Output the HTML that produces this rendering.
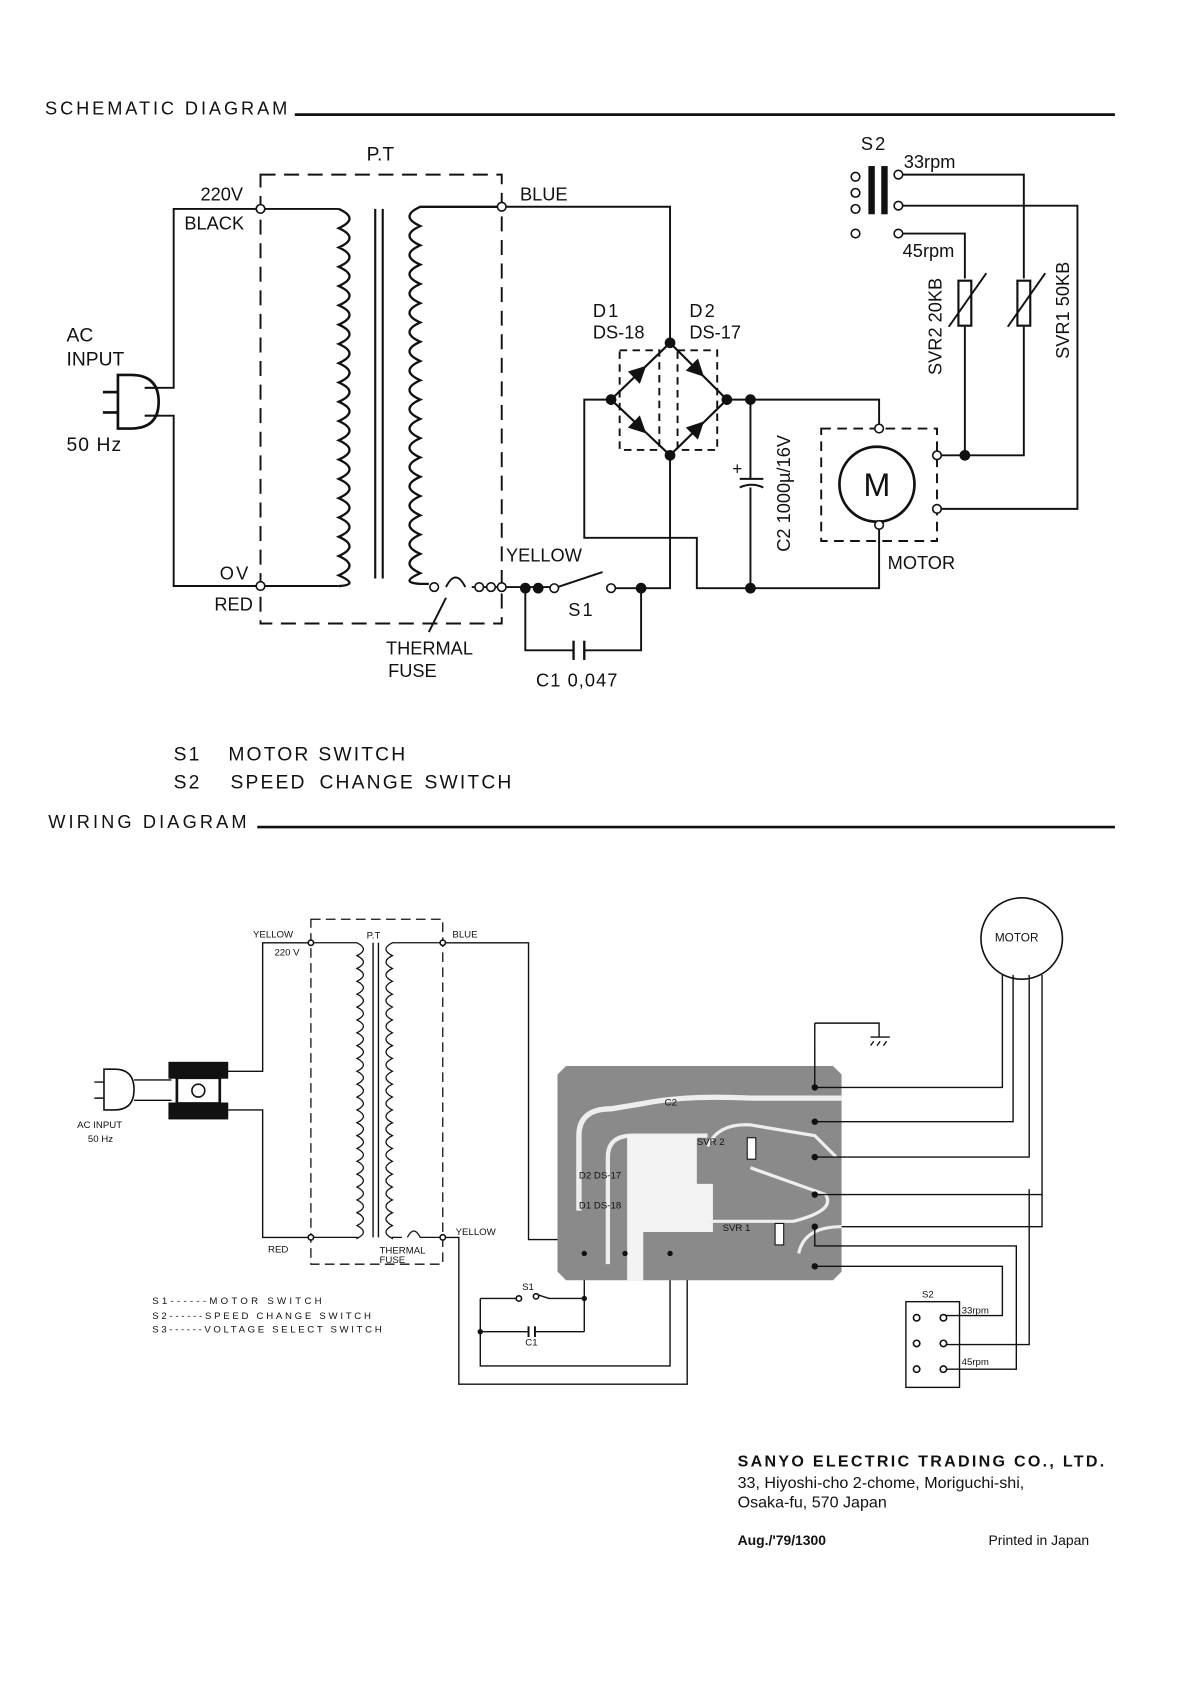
<!DOCTYPE html>
<html><head><meta charset="utf-8"><style>
html,body{margin:0;padding:0;background:#fff;}
svg{display:block;}
text{font-family:"Liberation Sans",sans-serif;fill:#111;}
</style></head><body>
<svg width="1190" height="1682" viewBox="0 0 1110 1570" preserveAspectRatio="none" xmlns="http://www.w3.org/2000/svg">
<defs>
<polygon id="tri" points="-8,-8 8,0 -8,8" fill="#111"/>
</defs>
<g stroke="#111" fill="none" stroke-width="1.8">
<line x1="275" y1="107" x2="1040" y2="107" stroke-width="2.5"/>
<line x1="240" y1="772" x2="1040" y2="772" stroke-width="2.5"/>

<path d="M243 163 H468 V582 H243 Z" stroke-dasharray="14,8"/>
<path d="M243 195 H162 V362 H135"/>
<path d="M135 388 H162 V547 H243"/>
<path d="M243 195 H316"/>
<path d="M243 547 H316"/>
<path d="M316 195 q20 9 0 18 q20 9 0 18 q20 9 0 18 q20 9 0 18 q20 9 0 18 q20 9 0 18 q20 9 0 18 q20 9 0 18 q20 9 0 18 q20 9 0 18 q20 9 0 18 q20 9 0 18 q20 9 0 18 q20 9 0 18 q20 9 0 18 q20 9 0 18 q20 9 0 18 q20 9 0 18 q20 9 0 18 q20 9 0 10" stroke-width="2.2"/>
<line x1="350" y1="195" x2="350" y2="540" stroke-width="2"/>
<line x1="357" y1="195" x2="357" y2="540" stroke-width="2"/>
<path d="M468 193 H392 q-20 9 0 18 q-20 9 0 18 q-20 9 0 18 q-20 9 0 18 q-20 9 0 18 q-20 9 0 18 q-20 9 0 18 q-20 9 0 18 q-20 9 0 18 q-20 9 0 18 q-20 9 0 18 q-20 9 0 18 q-20 9 0 18 q-20 9 0 18 q-20 9 0 18 q-20 9 0 18 q-20 9 0 18 q-20 9 0 18 q-20 9 0 18 q-20 9 0 10 H400" stroke-width="2.2"/>
<path d="M416 548 q9 -18 18 0 M440 548 H468"/>
<line x1="400" y1="590" x2="416" y2="558"/>
<path d="M110 350 h12 q26 0 26 25 q0 25 -26 25 h-12 Z" stroke-width="2.5"/>
<line x1="96" y1="366" x2="110" y2="366" stroke-width="2.5"/>
<line x1="96" y1="385" x2="110" y2="385" stroke-width="2.5"/>
<path d="M148 362 H135 M148 388 H135"/>

<path d="M468 193 H625 V320"/>
<path d="M625 320 L570 373 L625 425 L678 373 Z" stroke-width="2"/>
<rect x="578" y="327" width="37" height="93" stroke-dasharray="7,5"/>
<rect x="632" y="327" width="37" height="93" stroke-dasharray="7,5"/>
<path d="M570 373 H545 V502 H650 V549 H820 V490"/>
<path d="M678 373 H820 V400"/>
<path d="M700 373 V447 M690 447 H712 M690 455 q11 -5 22 0 M700 455 V549"/>
<path d="M625 425 V549 H598"/>
<path d="M468 548 H517"/>
<path d="M517 549 L562 534"/>
<path d="M570 549 H598"/>
<path d="M490 549 V607 H535 M545 607 H598 V549"/>
<line x1="535" y1="598" x2="535" y2="616" stroke-width="2.2"/>
<line x1="545" y1="598" x2="545" y2="616" stroke-width="2.2"/>
<rect x="766" y="400" width="108" height="105" stroke-dasharray="9,6"/>
<circle cx="818" cy="452" r="35" stroke-width="2.5"/>
<path d="M874 425 H955 V305 M955 260 V163 H838"/>
<path d="M900 425 V305 M900 260 V218 H838"/>
<path d="M874 475 H1005 V192 H838"/>
<rect x="894" y="262" width="12" height="42" stroke-width="2"/>
<rect x="949" y="262" width="12" height="42" stroke-width="2"/>
<line x1="885" y1="305" x2="920" y2="255"/>
<line x1="940" y1="305" x2="975" y2="255"/>
<rect x="810" y="155" width="6" height="45" fill="#111" stroke="none"/>
<rect x="822" y="155" width="6" height="45" fill="#111" stroke="none"/>

<!-- WIRING -->
<path d="M290 858 H413 V1180 H290 Z" stroke-dasharray="9,5" stroke-width="1.2"/>
<path d="M290 880 H245 V1000 H212" stroke-width="1.3"/>
<path d="M212 1036 H245 V1155 H290" stroke-width="1.3"/>
<path d="M290 880 H333 q12 6 0 12 q12 6 0 12 q12 6 0 12 q12 6 0 12 q12 6 0 12 q12 6 0 12 q12 6 0 12 q12 6 0 12 q12 6 0 12 q12 6 0 12 q12 6 0 12 q12 6 0 12 q12 6 0 12 q12 6 0 12 q12 6 0 12 q12 6 0 12 q12 6 0 12 q12 6 0 12 q12 6 0 12 q12 6 0 12 q12 6 0 12 q12 6 0 12 q12 6 0 12 V1155 H290" stroke-width="1.2"/>
<line x1="348" y1="880" x2="348" y2="1155" stroke-width="1.3"/>
<line x1="353" y1="880" x2="353" y2="1155" stroke-width="1.3"/>
<path d="M413 880 H366 q-12 6 0 12 q-12 6 0 12 q-12 6 0 12 q-12 6 0 12 q-12 6 0 12 q-12 6 0 12 q-12 6 0 12 q-12 6 0 12 q-12 6 0 12 q-12 6 0 12 q-12 6 0 12 q-12 6 0 12 q-12 6 0 12 q-12 6 0 12 q-12 6 0 12 q-12 6 0 12 q-12 6 0 12 q-12 6 0 12 q-12 6 0 12 q-12 6 0 12 q-12 6 0 12 q-12 6 0 12 q-12 6 0 12 V1155 H375 M380 1155 q6 -12 12 0 H413" stroke-width="1.2"/>
<path d="M413 880 H493 V1157 H583 V1175" stroke-width="1.3"/>
<path d="M413 1155 H428 V1292 H641 V1170 H625" stroke-width="1.3"/>
<path d="M545 1170 V1243 M448 1212 H484 M500 1208 L512 1212 H545 M448 1212 V1275 H625 V1170 M448 1243 H493 M499 1243 H545" stroke-width="1.3"/>
<line x1="493" y1="1238" x2="493" y2="1248"/><line x1="499" y1="1238" x2="499" y2="1248"/>
<path d="M97 998 h10 q18 0 18 19 q0 19 -18 19 h-10 Z" stroke-width="1.5"/>
<path d="M88 1010 h9 M88 1025 h9 M125 1008 H160 M125 1027 H160" stroke-width="1.3"/>
<rect x="158" y="992" width="54" height="14" fill="#111"/>
<rect x="158" y="1030" width="54" height="14" fill="#111"/>
<rect x="165" y="1006" width="40" height="24" stroke-width="2.5"/>
<circle cx="185" cy="1018" r="6" stroke-width="1.5"/>
<path d="M528 995 H777 L785 1003 V1187 L777 1195 H528 L520 1187 V1003 Z" fill="#8a8a8a" stroke="none"/>
<path d="M540 1130 V1060 Q540 1035 570 1035 L600 1030 Q640 1022 700 1025 H785" stroke="#eee" stroke-width="5"/>
<path d="M567 1180 V1080 Q567 1060 590 1060 H660" stroke="#eee" stroke-width="4"/>
<path d="M600 1060 H650 V1105 H665 V1150 H600 V1195 H585 V1060 Z" fill="#f3f3f3" stroke="none"/>
<path d="M660 1070 Q670 1048 700 1050 L760 1060 L780 1080" stroke="#eee" stroke-width="3"/>
<path d="M700 1090 L770 1115 Q780 1130 740 1140 H660" stroke="#eee" stroke-width="3"/>
<path d="M745 1170 Q750 1145 785 1145" stroke="#eee" stroke-width="3"/>
<path d="M760 955 H820 V968 M812 968 H830 M815 972 L812 976 M821 972 L818 976 M827 972 L824 976 M760 955 V1015" stroke-width="1.3"/>
<g stroke-width="1.3">
<path d="M760 1015 H935 V910"/>
<path d="M760 1047 H945 V910"/>
<path d="M760 1080 H960 V910"/>
<path d="M760 1115 H972 V910"/>
<path d="M760 1145 V1163 H948 V1278 H880"/>
<path d="M760 1182 H935 V1228 H880"/>
<path d="M785 1145 H972 V1115"/>
<path d="M880 1255 H960 V1110"/>
</g>
<circle cx="953" cy="876" r="38" stroke-width="1.5"/>
<rect x="845" y="1215" width="50" height="80" stroke-width="1.3"/>
</g>

<g fill="#fff" stroke="#111" stroke-width="1.5">
<circle cx="243" cy="195" r="4"/><circle cx="243" cy="547" r="4"/>
<circle cx="468" cy="193" r="4"/><circle cx="468" cy="548" r="4"/>
<circle cx="405" cy="548" r="4"/><circle cx="447" cy="548" r="4"/><circle cx="458" cy="548" r="4"/>
<circle cx="517" cy="549" r="4"/><circle cx="570" cy="549" r="4"/>
<circle cx="820" cy="400" r="4"/><circle cx="820" cy="490" r="4"/>
<circle cx="874" cy="425" r="4"/><circle cx="874" cy="475" r="4"/>
<circle cx="798" cy="165" r="4"/><circle cx="798" cy="180" r="4"/><circle cx="798" cy="195" r="4"/><circle cx="798" cy="218" r="4"/>
<circle cx="838" cy="163" r="4"/><circle cx="838" cy="192" r="4"/><circle cx="838" cy="218" r="4"/>
<circle cx="855" cy="1230" r="3"/><circle cx="855" cy="1254" r="3"/><circle cx="855" cy="1278" r="3"/>
<circle cx="880" cy="1230" r="3"/><circle cx="880" cy="1254" r="3"/><circle cx="880" cy="1278" r="3"/>
<circle cx="290" cy="880" r="2.5"/><circle cx="413" cy="880" r="2.5"/><circle cx="290" cy="1155" r="2.5"/><circle cx="413" cy="1155" r="2.5"/>
<circle cx="484" cy="1212" r="2.5"/><circle cx="500" cy="1210" r="2.5"/>
</g>
<g fill="#111">
<circle cx="625" cy="320" r="5"/><circle cx="570" cy="373" r="5"/><circle cx="678" cy="373" r="5"/><circle cx="625" cy="425" r="5"/>
<circle cx="700" cy="373" r="5"/><circle cx="700" cy="549" r="5"/>
<circle cx="490" cy="549" r="5"/><circle cx="502" cy="549" r="5"/><circle cx="598" cy="549" r="5"/>
<circle cx="900" cy="425" r="5"/>
<use href="#tri" transform="translate(597,347) rotate(-44)"/>
<use href="#tri" transform="translate(597,399) rotate(44)"/>
<use href="#tri" transform="translate(651,346) rotate(45)"/>
<use href="#tri" transform="translate(651,399) rotate(-45)"/>
<circle cx="760" cy="1015" r="3"/><circle cx="760" cy="1047" r="3"/><circle cx="760" cy="1080" r="3"/><circle cx="760" cy="1115" r="3"/><circle cx="760" cy="1145" r="3"/><circle cx="760" cy="1182" r="3"/>
<circle cx="545" cy="1170" r="2.5"/><circle cx="545" cy="1212" r="2.5"/><circle cx="448" cy="1243" r="2.5"/><circle cx="625" cy="1170" r="2.5"/><circle cx="583" cy="1170" r="2.5"/>
<circle cx="700" cy="1072" r="2.5"/><circle cx="727" cy="1152" r="2.5"/>
</g>
<rect x="697" y="1062" width="8" height="20" fill="#fff" stroke="#111"/>
<rect x="723" y="1142" width="8" height="20" fill="#fff" stroke="#111"/>

<text x="42" y="107" font-size="17" textLength="226" lengthAdjust="spacing">SCHEMATIC DIAGRAM</text>
<text x="45" y="773" font-size="17" textLength="185" lengthAdjust="spacing">WIRING DIAGRAM</text>
<text x="342" y="150" font-size="18">P.T</text>
<text x="187" y="187" font-size="17">220V</text>
<text x="172" y="214" font-size="17">BLACK</text>
<text x="62" y="319" font-size="18">AC</text>
<text x="62" y="341" font-size="18">INPUT</text>
<text x="62" y="421" font-size="18" letter-spacing="1">50 Hz</text>
<text x="205" y="541" font-size="17" letter-spacing="2">OV</text>
<text x="200" y="570" font-size="17">RED</text>
<text x="485" y="187" font-size="17">BLUE</text>
<text x="472" y="524" font-size="17">YELLOW</text>
<text x="530" y="575" font-size="17" letter-spacing="2">S1</text>
<text x="360" y="611" font-size="17">THERMAL</text>
<text x="362" y="632" font-size="17">FUSE</text>
<text x="500" y="641" font-size="17" letter-spacing="1">C1 0,047</text>
<text x="553" y="296" font-size="17" letter-spacing="2">D1</text>
<text x="553" y="316" font-size="17">DS-18</text>
<text x="643" y="296" font-size="17" letter-spacing="2">D2</text>
<text x="643" y="316" font-size="17">DS-17</text>
<text x="683" y="443" font-size="16">+</text>
<text transform="translate(737,515) rotate(-90)" font-size="17">C2 1000µ/16V</text>
<text x="818" y="463" font-size="30" text-anchor="middle">M</text>
<text x="828" y="531" font-size="17">MOTOR</text>
<text x="803" y="140" font-size="17" letter-spacing="2">S2</text>
<text x="843" y="157" font-size="17">33rpm</text>
<text x="842" y="240" font-size="17">45rpm</text>
<text transform="translate(878,350) rotate(-90)" font-size="17">SVR2 20KB</text>
<text transform="translate(997,335) rotate(-90)" font-size="17">SVR1 50KB</text>
<g font-size="18" letter-spacing="2">
<text x="162" y="710">S1</text><text x="213" y="710">MOTOR</text><text x="297" y="710">SWITCH</text>
<text x="162" y="736">S2</text><text x="215" y="736">SPEED</text><text x="298" y="736">CHANGE</text><text x="396" y="736">SWITCH</text>
</g>
<g font-size="9">
<text x="236" y="875">YELLOW</text>
<text x="256" y="892">220 V</text>
<text x="342" y="876">P.T</text>
<text x="422" y="875">BLUE</text>
<text x="250" y="1169">RED</text>
<text x="425" y="1153">YELLOW</text>
<text x="354" y="1170">THERMAL</text>
<text x="354" y="1179">FUSE</text>
<text x="72" y="1053">AC  INPUT</text>
<text x="82" y="1066">50 Hz</text>
<text x="142" y="1217" textLength="158" lengthAdjust="spacing">S1------MOTOR SWITCH</text>
<text x="142" y="1231" textLength="204" lengthAdjust="spacing">S2------SPEED CHANGE SWITCH</text>
<text x="142" y="1244" textLength="214" lengthAdjust="spacing">S3------VOLTAGE SELECT SWITCH</text>
<text x="487" y="1204">S1</text>
<text x="490" y="1256">C1</text>
<text x="928" y="879" font-size="11">MOTOR</text>
<text x="860" y="1211">S2</text>
<text x="897" y="1226">33rpm</text>
<text x="897" y="1274">45rpm</text>
<text x="540" y="1100" fill="#fff">D2  DS-17</text>
<text x="540" y="1128" fill="#fff">D1  DS-18</text>
<text x="650" y="1069" fill="#111">SVR 2</text>
<text x="674" y="1149" fill="#111">SVR 1</text>
<text x="620" y="1032" fill="#fff">C2</text>
</g>
<text x="688" y="1369" font-size="15" font-weight="bold" textLength="342" lengthAdjust="spacing">SANYO ELECTRIC TRADING CO., LTD.</text>
<text x="688" y="1389" font-size="15">33, Hiyoshi-cho 2-chome, Moriguchi-shi,</text>
<text x="688" y="1407" font-size="15">Osaka-fu, 570 Japan</text>
<text x="688" y="1442" font-size="13" font-weight="bold">Aug./'79/1300</text>
<text x="922" y="1442" font-size="13">Printed in Japan</text>
</svg>
</body></html>
